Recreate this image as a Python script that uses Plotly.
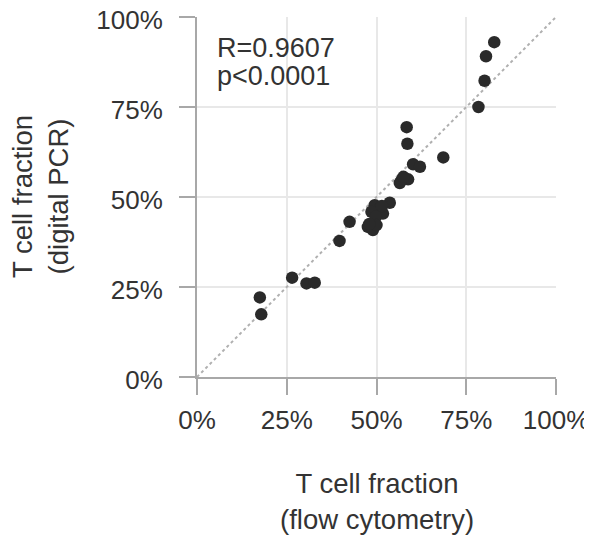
import plotly.graph_objects as go

flow = [82.8, 80.5, 80.1, 78.4, 58.4, 58.6, 68.6, 60.2, 62.1, 57.0, 58.8, 56.5, 57.5,
        53.7, 49.5, 50.9, 51.8, 48.6, 49.8, 51.5, 42.5, 47.6, 49.0, 50.0, 48.0, 39.7,
        26.5, 30.5, 32.8, 17.5, 17.9]
pcr = [93.0, 89.1, 82.3, 75.0, 69.4, 64.8, 61.0, 59.1, 58.4, 54.7, 54.9, 53.9, 55.6,
       48.4, 47.7, 46.8, 45.4, 45.9, 44.5, 47.5, 43.1, 41.7, 40.8, 42.2, 42.5, 37.8,
       27.6, 26.0, 26.2, 22.1, 17.4]
tick_vals = [0, 25, 50, 75, 100]
tick_text = ["0%", "25%", "50%", "75%", "100%"]
diag = [0, 100]

FONT = "Liberation Sans, Arial, sans-serif"
TXT = "#333333"

fig = go.Figure()
fig.add_trace(go.Scatter(x=diag, y=diag, mode="lines",
                         line=dict(color="#b0b0b0", width=2, dash="dot"),
                         hoverinfo="skip", showlegend=False))
fig.add_trace(go.Scatter(x=flow, y=pcr, mode="markers",
                         marker=dict(color="#2a2a2a", size=12.5, line=dict(width=0)),
                         showlegend=False))

axis_common = dict(range=[0, 100], tickvals=tick_vals, ticktext=tick_text,
                   showgrid=True, gridcolor="#e8e8e8", gridwidth=1.5,
                   showline=True, linecolor="#a8a8a8", linewidth=2,
                   ticks="outside", ticklen=16, tickwidth=2, tickcolor="#a8a8a8",
                   tickfont=dict(family=FONT, size=26, color=TXT),
                   ticklabeloverflow="allow",
                   zeroline=False, fixedrange=True, automargin=False)

# page body has an 8px margin, so the figure is sized/offset to compensate
fig.update_layout(
    width=584, height=529,
    margin=dict(l=189, r=36, t=9, b=160),
    paper_bgcolor="white", plot_bgcolor="white",
    xaxis=dict(**axis_common, ticklabelstandoff=3),
    yaxis=dict(**axis_common, ticklabelstandoff=11, ticklabelshift=3),
    annotations=[
        dict(text="R=0.9607", x=5, y=91.5, xref="x", yref="y", xanchor="left",
             yanchor="middle", showarrow=False, font=dict(family=FONT, size=27, color=TXT)),
        dict(text="p<0.0001", x=5, y=83.5, xref="x", yref="y", xanchor="left",
             yanchor="middle", showarrow=False, font=dict(family=FONT, size=27, color=TXT)),
        dict(text="T cell fraction<br>(flow cytometry)", x=0.5, y=0, xref="paper", yref="paper",
             xanchor="center", yanchor="middle", yshift=-124, showarrow=False,
             font=dict(family=FONT, size=27.5, color=TXT)),
        dict(text="T cell fraction<br>(digital PCR)", x=0, y=0.5, xref="paper", yref="paper",
             xanchor="center", yanchor="middle", xshift=-157, textangle=-90, showarrow=False,
             font=dict(family=FONT, size=27.5, color=TXT)),
    ],
)

fig.write_html("out.html")
